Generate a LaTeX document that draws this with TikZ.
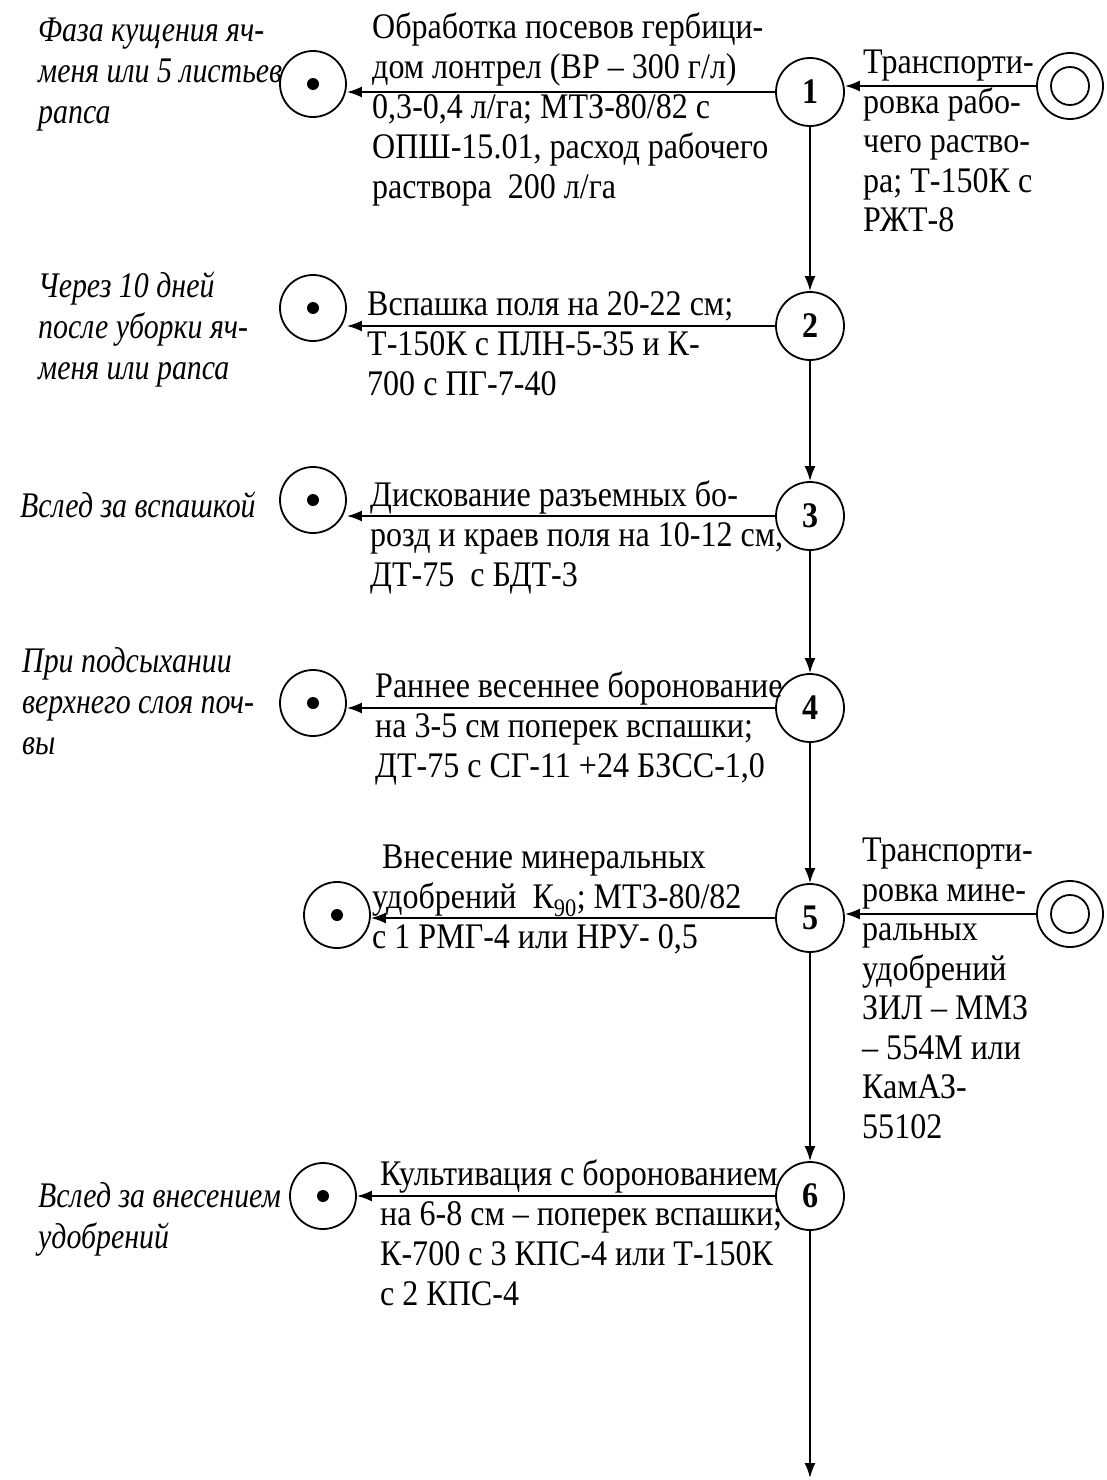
\documentclass[tikz,border=0pt]{standalone}
\usepackage{fontspec}
\setmainfont[FakeStretch=0.89]{Liberation Serif}
\newfontfamily\labelfont[FakeStretch=0.83]{Liberation Serif}
\usetikzlibrary{arrows.meta}
\begin{document}
\begin{tikzpicture}[x=1pt,y=-1pt,
  every node/.style={inner sep=0pt},
  txt/.style={anchor=north west, align=left, font=\fontsize{36}{40}\selectfont},
  trn/.style={anchor=north west, align=left, font=\fontsize{36}{39.5}\selectfont},
  itx/.style={anchor=north west, align=left, font=\labelfont\fontsize{36}{41}\selectfont\itshape},
  proc/.style={circle, draw, line width=1.8pt, minimum size=68pt, font=\fontsize{36}{36}\selectfont\bfseries},
  evt/.style={circle, draw, line width=1.8pt, minimum size=66pt,
    path picture={\fill (path picture bounding box.center) circle (6pt);}},
  src/.style={circle, draw, line width=1.8pt, minimum size=66pt,
    path picture={\draw[line width=1.8pt] (path picture bounding box.center) circle (19pt);}},
  arr/.style={line width=1.8pt, -{Latex[length=15pt,width=11pt]}}
]
\fill[white] (0,0) rectangle (1107,1480);
\useasboundingbox (0,0) rectangle (1107,1480);

% process circles
\node[proc] (c1) at (810,92) {1};
\node[proc] (c2) at (810,326) {2};
\node[proc] (c3) at (810,516) {3};
\node[proc] (c4) at (810,708) {4};
\node[proc] (c5) at (810,918) {5};
\node[proc] (c6) at (810,1196) {6};
\coordinate (end) at (810,1478);

% event circles
\node[evt] (e1) at (313,84) {};
\node[evt] (e2) at (313,308) {};
\node[evt] (e3) at (313,500) {};
\node[evt] (e4) at (313,703) {};
\node[evt] (e5) at (337,915) {};
\node[evt] (e6) at (323,1196) {};

% source circles
\node[src] (r1) at (1070,86) {};
\node[src] (r5) at (1070,914) {};

% vertical flow
\draw[arr] (c1) -- (c2);
\draw[arr] (c2) -- (c3);
\draw[arr] (c3) -- (c4);
\draw[arr] (c4) -- (c5);
\draw[arr] (c5) -- (c6);
\draw[arr] (c6) -- (end);

% horizontal arrows
\draw[arr] (c1.west) -- (c1.west -| e1.east);
\draw[arr] (c2.west) -- (c2.west -| e2.east);
\draw[arr] (c3.west) -- (c3.west -| e3.east);
\draw[arr] (c4.west) -- (c4.west -| e4.east);
\draw[arr] (c5.west) -- (c5.west -| e5.east);
\draw[arr] (c6.west) -- (c6.west -| e6.east);
\draw[arr] (r1.west) -- (r1.west -| c1.east);
\draw[arr] (r5.west) -- (r5.west -| c5.east);

% operation texts
\node[txt] (a1) at (372,13) {Обработка посевов гербици-\\дом лонтрел (ВР – 300 г/л)\\0,3-0,4 л/га; МТЗ-80/82 с\\ОПШ-15.01, расход рабочего\\раствора\ \ 200 л/га};
\node[txt] (a2) at (367,291) {Вспашка поля на 20-22 см;\\Т-150К с ПЛН-5-35 и К-\\700 с ПГ-7-40};
\node[txt] (a3) at (370,481) {Дискование разъемных бо-\\розд и краев поля на 10-12 см,\\ДТ-75\ \ с БДТ-3};
\node[txt] (a4) at (375,672) {Раннее весеннее боронование\\на 3-5 см поперек вспашки;\\ДТ-75 с СГ-11 +24 БЗСС-1,0};
\node[txt] (a5) at (372,845) {\hspace*{10pt}Внесение минеральных\\удобрений\ \ К\textsubscript{90}; МТЗ-80/82\\с 1 РМГ-4 или НРУ- 0,5};
\node[txt] (a6) at (380,1160) {Культивация с боронованием\\на 6-8 см – поперек вспашки;\\К-700 с 3 КПС-4 или Т-150К\\с 2 КПС-4};

% transport texts
\node[trn] (t1) at (863,50) {Транспорти-\\ровка рабо-\\чего раство-\\ра; Т-150К с\\РЖТ-8};
\node[trn] (t5) at (862,838) {Транспорти-\\ровка мине-\\ральных\\удобрений\\ЗИЛ – ММЗ\\– 554М или\\КамАЗ-\\55102};

% timing texts
\node[itx] (l1) at (38,18) {Фаза кущения яч-\\меня или 5 листьев\\рапса};
\node[itx] (l2) at (38,272) {Через 10 дней\\после уборки яч-\\меня или рапса};
\node[itx] (l3) at (20,492) {Вслед за вспашкой};
\node[itx] (l4) at (22,647) {При подсыхании\\верхнего слоя поч-\\вы};
\node[itx] (l6) at (38,1182) {Вслед за внесением\\удобрений};
\end{tikzpicture}
\end{document}
